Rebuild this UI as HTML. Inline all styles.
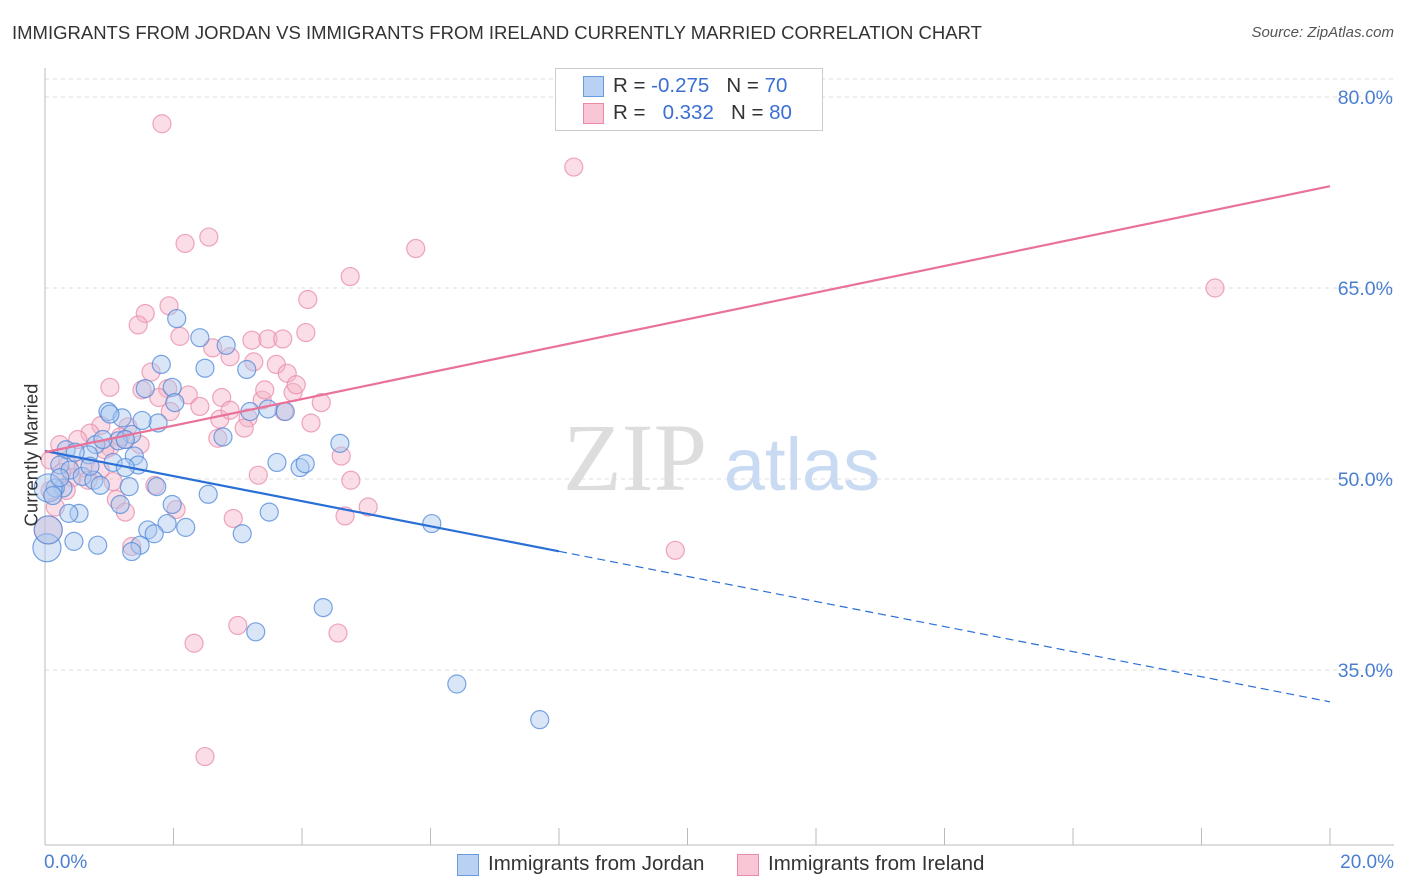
<!DOCTYPE html>
<html><head><meta charset="utf-8"><style>
body{margin:0;background:#fff;font-family:"Liberation Sans",sans-serif;}
#wrap{position:relative;width:1406px;height:892px;overflow:hidden;}
.t{position:absolute;white-space:nowrap;}
</style></head><body>
<div id="wrap">
<div class="t" style="left:12px;top:22px;font-size:18.5px;color:#333;">IMMIGRANTS FROM JORDAN VS IMMIGRANTS FROM IRELAND CURRENTLY MARRIED CORRELATION CHART</div>
<div class="t" style="right:12px;top:24px;font-size:15px;color:#555;font-style:italic;">Source: ZipAtlas.com</div>
<svg id="plot" width="1406" height="892" style="position:absolute;left:0;top:0"></svg>
</div>
<script>
const xTicks=[0,2,4,6,8,10,12,14,16,18,20];
const yTicks=[35,50,65,80];
const yTickLabels=["35.0%","50.0%","65.0%","80.0%"];
const jordanX=[2.05,2.41,2.82,1.81,2.49,3.14,1.98,1.56,2.02,0.98,1.20,1.76,3.19,3.47,3.74,1.35,1.14,0.79,0.33,0.68,0.90,1.39,1.06,1.45,1.25,0.23,0.39,0.58,0.76,0.28,0.16,0.05,0.86,1.31,1.74,2.54,2.77,4.59,3.61,3.97,4.05,1.98,1.17,0.53,0.37,3.49,6.02,2.19,1.90,1.60,1.70,3.07,1.48,1.35,0.82,0.45,0.03,0.05,4.33,3.28,6.41,7.70,1.01,0.23,0.70,1.25,1.51,0.47,0.12];
const jordanY=[62.6,61.1,60.5,59.0,58.7,58.6,57.2,57.1,56.0,55.3,54.8,54.4,55.3,55.5,55.3,53.5,53.0,52.7,52.3,51.9,53.1,51.8,51.3,51.1,50.9,51.1,50.7,50.2,49.9,49.3,49.3,49.3,49.5,49.4,49.4,48.8,53.3,52.8,51.3,50.9,51.2,48.0,48.0,47.3,47.3,47.4,46.5,46.2,46.5,46.0,45.7,45.7,44.8,44.3,44.8,45.1,44.6,46.0,39.9,38.0,33.9,31.1,55.1,50.1,51.0,53.1,54.6,52.1,48.7];
const irelandX=[1.82,8.23,2.55,2.18,5.77,4.75,4.09,1.93,1.56,1.45,2.10,4.06,2.61,3.22,3.47,3.70,2.88,3.25,3.60,1.65,3.77,1.01,1.51,1.91,1.77,2.23,2.75,3.38,3.86,4.30,2.41,1.95,3.72,3.16,2.72,3.10,4.14,0.87,1.29,0.70,2.69,1.25,0.23,0.51,1.01,4.61,0.36,0.59,0.86,3.32,4.76,1.71,1.06,0.42,0.08,1.11,0.16,1.25,2.04,2.93,4.67,5.03,9.81,1.35,0.05,3.00,4.56,2.32,2.49,18.21,0.26,0.67,0.93,0.08,0.33,1.17,1.48,2.88,3.91,3.42];
const irelandY=[77.9,74.5,69.0,68.5,68.1,65.9,64.1,63.6,63.0,62.1,61.2,61.5,60.3,60.9,61.0,61.0,59.6,59.2,59.0,58.4,58.3,57.2,57.0,57.1,56.4,56.6,56.4,56.2,56.8,56.0,55.7,55.3,55.3,54.8,54.7,54.0,54.4,54.2,54.1,53.6,53.2,53.1,52.7,53.1,52.5,51.8,51.1,50.9,50.7,50.3,49.9,49.5,49.8,50.1,49.1,48.4,47.8,47.4,47.6,46.9,47.1,47.8,44.4,44.7,46.0,38.5,37.9,37.1,28.2,65.0,50.5,49.9,52.3,51.5,49.1,53.3,52.7,55.4,57.4,57.0];
const jordanTrend=[52.2,32.5];
const irelandTrend=[52.1,73.0];

const NS="http://www.w3.org/2000/svg";
const svg=document.getElementById('plot');
const X=v=>45+v*64.25;
const Y=v=>479-(v-50)*12.733;
function mk(tag,attrs){const e=document.createElementNS(NS,tag);for(const k in attrs)e.setAttribute(k,attrs[k]);svg.appendChild(e);return e;}
for(let i=0;i<yTicks.length;i++){
  const g=mk('line',{x1:45,x2:1394,y1:Y(yTicks[i]),y2:Y(yTicks[i]),stroke:'#ddd','stroke-dasharray':'4,4'});
  
  
  const t=mk('text',{x:1393,y:Y(yTicks[i])+7,'text-anchor':'end','font-size':19.5,fill:'#4a7fd0','font-family':'Liberation Sans, sans-serif'});
  t.textContent=yTickLabels[i];
  
  
}
const tg=mk('line',{x1:45,x2:1394,y1:79,y2:79,stroke:'#ddd','stroke-dasharray':'4,4'});


const ya=mk('line',{x1:45,x2:45,y1:68,y2:845,stroke:'#bbb'});


const xa=mk('line',{x1:45,x2:1394,y1:845,y2:845,stroke:'#bbb'});


for(const v of xTicks){
  const l=mk('line',{x1:X(v),x2:X(v),y1:828,y2:845,stroke:'#bbb'});
  
  
}
const w1=mk('text',{x:635,y:490,'text-anchor':'middle','font-size':96,fill:'#ddd','font-family':'Liberation Serif, serif'});
w1.textContent='ZIP';


const w2=mk('text',{x:802,y:490,'text-anchor':'middle','font-size':74,fill:'#c9daf3','font-family':'Liberation Sans, sans-serif'});
w2.textContent='atlas';


function pts(xs,ys,fill,stroke,name){
  for(let i=0;i<xs.length;i++){
    const r=xs[i]<0.06?14:9;
    const c=mk('circle',{cx:X(xs[i]),cy:Y(ys[i]),r:r,fill:fill,'fill-opacity':0.45,stroke:stroke,'stroke-opacity':0.75,'stroke-width':1.2});
    
    
  }
}
pts(irelandX,irelandY,'#f5b3c8','#e88aa8','ireland-point');
pts(jordanX,jordanY,'#a9c8f0','#4f87d8','jordan-point');
const jSlope=(jordanTrend[1]-jordanTrend[0])/20;
const b1=mk('line',{x1:X(0),y1:Y(jordanTrend[0]),x2:X(8),y2:Y(jordanTrend[0]+jSlope*8),stroke:'#2a6fd6','stroke-width':2.2});


const b2=mk('line',{x1:X(8),y1:Y(jordanTrend[0]+jSlope*8),x2:X(20),y2:Y(jordanTrend[1]),stroke:'#2a6fd6','stroke-width':1.2,'stroke-dasharray':'8,5'});


const p1=mk('line',{x1:X(0),y1:Y(irelandTrend[0]),x2:X(20),y2:Y(irelandTrend[1]),stroke:'#e8729a','stroke-width':2.2});


</script>
<div class="t" style="left:-40px;top:444px;font-size:18.5px;color:#333;transform:rotate(-90deg);">Currently Married</div>
<div class="t" style="left:44px;top:852px;font-size:19px;color:#4a7fd0;">0.0%</div>
<div class="t" style="right:12px;top:852px;font-size:19px;color:#4a7fd0;">20.0%</div>
<div style="position:absolute;left:555px;top:68px;width:266px;height:61px;border:1px solid #ccc;background:#fff;font-size:20.5px;color:#333;">
  <div style="position:absolute;left:27px;top:7px;width:19px;height:19px;background:#b9d2f3;border:1px solid #6a9ae0;"></div>
  <div class="t" style="left:57px;top:5px;">R = <span style="color:#3b6fd4">-0.275</span>&nbsp;&nbsp;&nbsp;N = <span style="color:#3b6fd4">70</span></div>
  <div style="position:absolute;left:27px;top:34px;width:19px;height:19px;background:#f8c6d5;border:1px solid #e88aa8;"></div>
  <div class="t" style="left:57px;top:32px;">R = &nbsp;&nbsp;<span style="color:#3b6fd4">0.332</span>&nbsp;&nbsp;&nbsp;N = <span style="color:#3b6fd4">80</span></div>
</div>
<div style="position:absolute;left:457px;top:853px;">
  <div style="position:absolute;left:0;top:1px;width:20px;height:20px;background:#b9d2f3;border:1px solid #6a9ae0;"></div>
  <div class="t" style="left:31px;top:-1px;font-size:20.5px;color:#333;">Immigrants from Jordan</div>
</div>
<div style="position:absolute;left:737px;top:853px;">
  <div style="position:absolute;left:0;top:1px;width:20px;height:20px;background:#f8c6d5;border:1px solid #e88aa8;"></div>
  <div class="t" style="left:31px;top:-1px;font-size:20.5px;color:#333;">Immigrants from Ireland</div>
</div>
</body></html>
